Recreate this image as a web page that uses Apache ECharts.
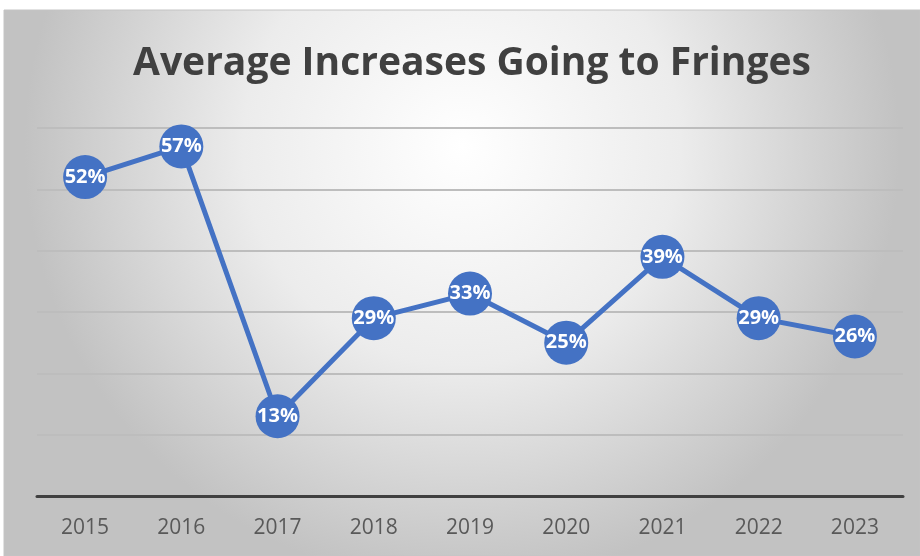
<!DOCTYPE html>
<html><head><meta charset="utf-8">
<script src="https://cdn.jsdelivr.net/npm/echarts@6/dist/echarts.min.js"></script>
<style>html,body{margin:0;padding:0;background:#fff}#c{width:920px;height:556px}</style>
</head><body><div id="c"></div>
<script>
const categories = ['2015','2016','2017','2018','2019','2020','2021','2022','2023'];
const values = [52, 57, 13, 29, 33, 25, 39, 29, 26];
const yTicks = [0, 10, 20, 30, 40, 50, 60];

const FONT = "'Open Sans', sans-serif";
const chart = echarts.init(document.getElementById('c'), null, {renderer: 'canvas'});
chart.setOption({
  animation: false,
  graphic: [{
    type: 'rect', z: -10, silent: true,
    shape: {x: 4, y: 10, width: 916, height: 546},
    style: {
      fill: {type: 'radial', x: 0.5, y: 0.25, r: 0.8,
        colorStops: [{offset: 0, color: '#ffffff'}, {offset: 0.5, color: '#ececec'}, {offset: 1, color: '#c2c2c2'}]},
      stroke: '#c4c4c4', lineWidth: 1
    }
  }],
  title: {
    text: 'Average Increases Going to Fringes',
    left: 128, top: 39,
    textStyle: {fontFamily: FONT, fontWeight: 'bold', fontSize: 39, color: '#404040'}
  },
  grid: {left: 37, right: 17, top: 128, bottom: 60},
  xAxis: {
    type: 'category', data: categories,
    axisLine: {lineStyle: {color: '#404040', width: 3}},
    axisTick: {show: false},
    axisLabel: {color: '#595959', fontSize: 21, margin: 22, fontFamily: FONT}
  },
  yAxis: {
    type: 'value', min: yTicks[0], max: yTicks[yTicks.length-1], interval: 10,
    axisLabel: {show: false}, axisLine: {show: false}, axisTick: {show: false},
    splitLine: {lineStyle: {color: '#bdbdbd', width: 2}}
  },
  series: [{
    type: 'line', data: values,
    symbol: 'circle', symbolSize: 44,
    lineStyle: {color: '#4472C4', width: 5},
    itemStyle: {color: '#4472C4'},
    label: {show: true, position: 'inside', formatter: '{c}%', color: '#ffffff', fontWeight: 'bold', fontSize: 20,
      fontFamily: FONT}
  }]
});
</script></body></html>
